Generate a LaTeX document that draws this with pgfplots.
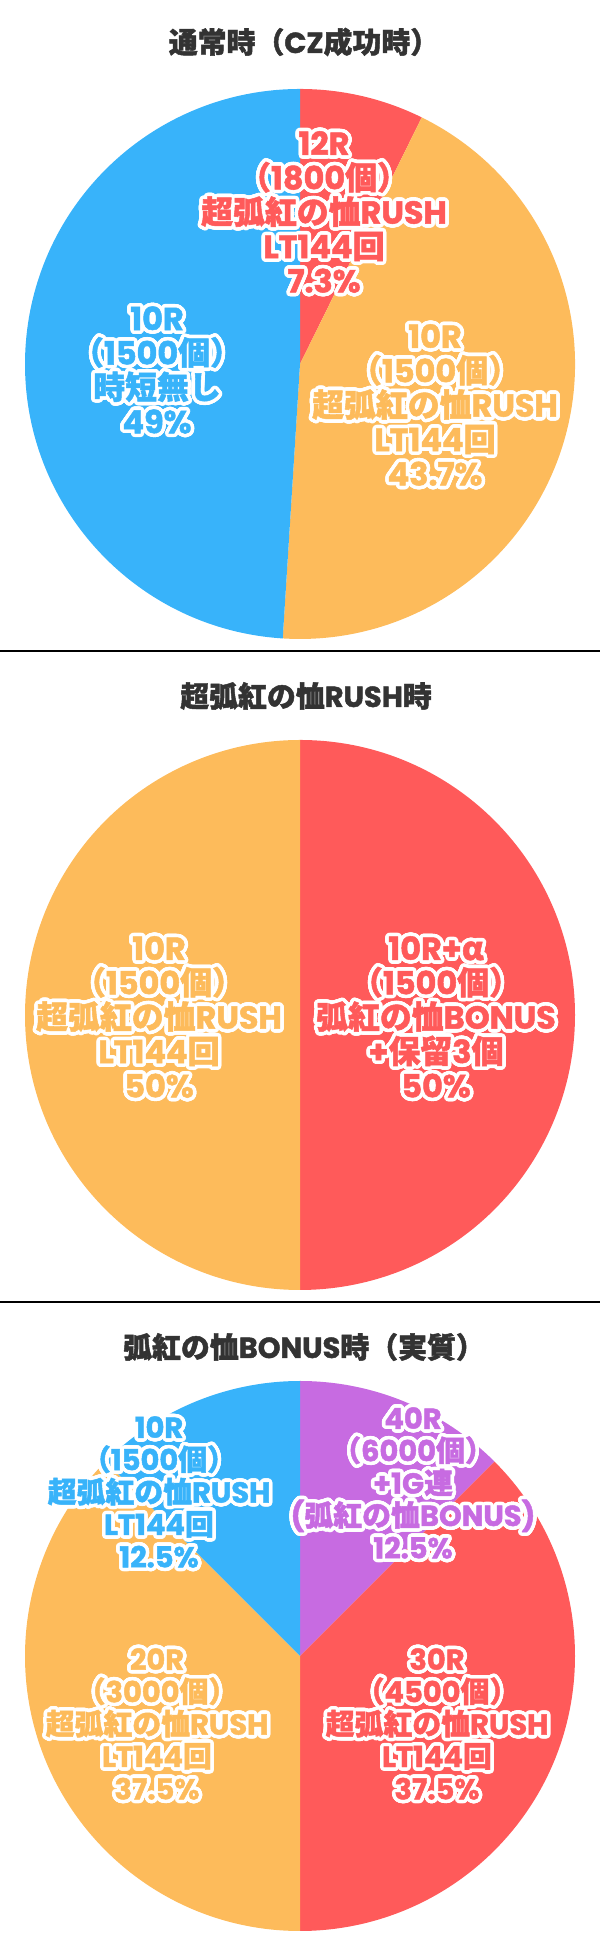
\documentclass[border=0pt]{standalone}
\usepackage{pgfplots}
\usepackage{pgfplotstable}
\pgfplotsset{compat=1.18}
\usepackage{fontspec}
\newfontfamily\jp{Noto Sans CJK JP}[BoldFeatures={FakeBold=1.6}]
\newfontfamily\lat{Poppins}[BoldFeatures={FakeBold=1.6}]

\definecolor{pieblue}{HTML}{38B3FA}
\definecolor{pieorange}{HTML}{FDBB5B}
\definecolor{piered}{HTML}{FF5A5A}
\definecolor{piepurple}{HTML}{C76BE1}
\definecolor{titlegray}{HTML}{333333}

% share in percent; from = share already used before the slice
% (slices run clockwise from 12 o'clock); c: 0 red, 1 orange, 2 blue, 3 purple
\pgfplotstableread[col sep=comma]{
share,from,c
7.3,0,0
43.7,7.3,1
49,51,2
}\pieA
\pgfplotstableread[col sep=comma]{
share,from,c
50,0,0
50,50,1
}\pieB
\pgfplotstableread[col sep=comma]{
share,from,c
12.5,0,3
37.5,12.5,0
37.5,50,1
12.5,87.5,2
}\pieC

\pgfdeclareplotmark{blank}{}
\pgfplotsset{
  pie/.style={
    width=550bp, height=550bp, scale only axis, hide axis, clip=false,
    xmin=-1, xmax=1, ymin=-1, ymax=1, anchor=center,
  },
  slices/.style={
    scatter, only marks, mark=blank,
    point meta=\thisrow{share},
    visualization depends on={\thisrow{share} \as \pshare},
    visualization depends on={\thisrow{from} \as \pfrom},
    visualization depends on={\thisrow{c} \as \pc},
    scatter/@pre marker code/.code={
      \pgfmathsetmacro\aS{90-3.6*\pfrom}
      \pgfmathsetmacro\aE{90-3.6*(\pfrom+\pshare)}
      \pgfmathtruncatemacro\ci{round(\pc)}
      \ifcase\ci\relax \def\slicecol{piered}\or \def\slicecol{pieorange}\or
        \def\slicecol{pieblue}\else \def\slicecol{piepurple}\fi
      \pgfpathmoveto{\pgfpointorigin}
      \pgfpathlineto{\pgfpointpolar{\aS}{275bp}}
      \pgfpatharc{\aS}{\aE}{275bp}
      \pgfpathclose
      \pgfsetfillcolor{\slicecol}
      \pgfusepath{fill}
    },
    scatter/@post marker code/.code={},
  },
}
\tikzset{
  lbl/.style={align=center, inner sep=0pt, font=\fontsize{32}{34.5}\selectfont\jp\bfseries},
  lblsmall/.style={align=center, inner sep=0pt, font=\fontsize{29}{32.5}\selectfont\jp\bfseries},
  ttl/.style={text=titlegray, inner sep=0pt, font=\fontsize{29}{32}\selectfont\jp\bfseries},
}
% outlined label: x, y (pixels from the top), colour, style, text
\newcommand\olabel[5]{%
  \foreach \k in {0,15,...,345}
    \node[#4, text=white, shift={(\k:3.6bp)}] at (#1bp,{(1954-#2)*1bp}) {#5};
  \node[#4, text=#3] at (#1bp,{(1954-#2)*1bp}) {#5};
}

\begin{document}
\begin{tikzpicture}
\path[use as bounding box] (0,0) rectangle (600bp,1954bp);

\begin{axis}[pie, at={(300bp,1590bp)}]
\addplot[slices] table[x expr=0, y expr=0] {\pieA};
\end{axis}
\begin{axis}[pie, at={(300bp,939bp)}]
\addplot[slices] table[x expr=0, y expr=0] {\pieB};
\end{axis}
\begin{axis}[pie, at={(300bp,298bp)}]
\addplot[slices] table[x expr=0, y expr=0] {\pieC};
\end{axis}

\draw[line width=2bp] (0,1303bp) -- (600bp,1303bp);
\draw[line width=2bp] (0,652bp) -- (600bp,652bp);

\node[ttl] at (304bp,1912bp) {通常時（{\lat CZ}成功時）};
\node[ttl] at (306bp,1258bp) {超弧紅の恤{\lat RUSH}時};
\node[ttl] at (304bp,607bp) {弧紅の恤{\lat BONUS}時（実質）};

% pie 1
\olabel{324}{212}{piered}{lbl}{{\lat 12R}\\（{\lat 1800}個）\\超弧紅の恤{\lat RUSH}\\{\lat LT144}回\\{\lat 7.3\%}}
\olabel{435}{405}{pieorange}{lbl}{{\lat 10R}\\（{\lat 1500}個）\\超弧紅の恤{\lat RUSH}\\{\lat LT144}回\\{\lat 43.7\%}}
\olabel{157}{370}{pieblue}{lbl}{{\lat 10R}\\（{\lat 1500}個）\\時短無し\\{\lat 49\%}}
% pie 2
\olabel{159}{1017}{pieorange}{lbl}{{\lat 10R}\\（{\lat 1500}個）\\超弧紅の恤{\lat RUSH}\\{\lat LT144}回\\{\lat 50\%}}
\olabel{436}{1017}{piered}{lbl}{{\lat 10R+}α\\（{\lat 1500}個）\\弧紅の恤{\lat BONUS}\\{\lat +}保留{\lat 3}個\\{\lat 50\%}}
% pie 3
\olabel{159}{1492}{pieblue}{lblsmall}{{\lat 10R}\\（{\lat 1500}個）\\超弧紅の恤{\lat RUSH}\\{\lat LT144}回\\{\lat 12.5\%}}
\olabel{413}{1483}{piepurple}{lblsmall}{{\lat 40R}\\（{\lat 6000}個）\\{\lat +1G}連\\{\lat (}弧紅の恤{\lat BONUS)}\\{\lat 12.5\%}}
\olabel{157}{1724}{pieorange}{lblsmall}{{\lat 20R}\\（{\lat 3000}個）\\超弧紅の恤{\lat RUSH}\\{\lat LT144}回\\{\lat 37.5\%}}
\olabel{437}{1724}{piered}{lblsmall}{{\lat 30R}\\（{\lat 4500}個）\\超弧紅の恤{\lat RUSH}\\{\lat LT144}回\\{\lat 37.5\%}}
\end{tikzpicture}
\end{document}
